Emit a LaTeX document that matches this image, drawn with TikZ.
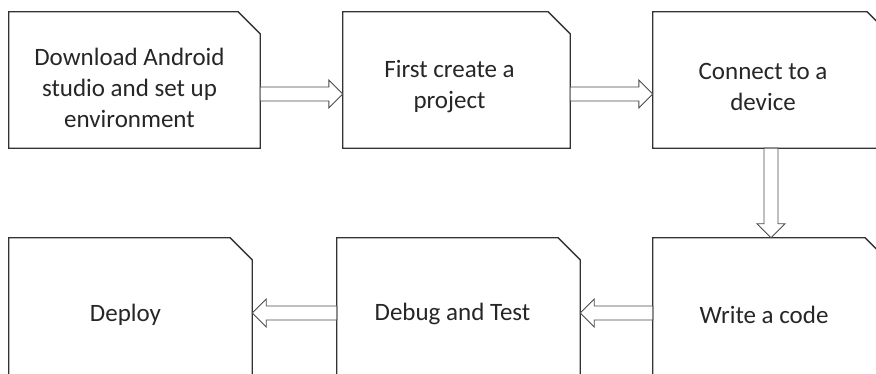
\documentclass[tikz,border=0pt]{standalone}
\usepackage{fontspec}
\setmainfont{Carlito}
\usetikzlibrary{calc,positioning}

% hollow block arrow from #1 to #2
\newcommand{\blockarr}[2]{%
  \draw[blockarrow] let \p1=($(#2)-(#1)$), \n1={atan2(\y1,\x1)}, \n2={veclen(\x1,\y1)} in
    [shift={(#1)}, rotate=\n1]
    (0pt,-7pt) -- (\n2-14pt,-7pt) -- (\n2-14pt,-14pt) -- (\n2,0pt)
    -- (\n2-14pt,14pt) -- (\n2-14pt,7pt) -- (0pt,7pt) -- cycle;
}

\begin{document}
\begin{tikzpicture}[
    x=1pt, y=-1pt,
    stepbox/.style={inner sep=0pt, minimum height=#1},
    stepbox/.default=136pt,
    steptext/.style={inner sep=0pt, align=center, font=\fontsize{25}{31}\selectfont, text=black!85},
    outline/.style={draw=black!80, line width=1.3pt, line join=miter},
    blockarrow/.style={draw=black!70, line width=0.9pt, fill=white}
  ]
    \useasboundingbox (0,0) rectangle (876,374);
    \clip (0,0) rectangle (876,374);

    % boxes
    \node[stepbox, minimum width=251pt] (b1) at (134.5, 80) {};
    \node[stepbox, minimum width=227pt] (b2) at (456.5, 80) {};
    \node[stepbox, minimum width=236pt] (b3) at (771, 80) {};
    \node[stepbox=150pt, minimum width=243pt] (b4) at (130.5, 313) {};
    \node[stepbox=150pt, minimum width=243pt] (b5) at (458.5, 313) {};
    \node[stepbox=150pt, minimum width=234pt] (b6) at (770, 313) {};

    \foreach \b in {b1,b2,b3,b4,b5,b6}
      \draw[outline] (\b.south west) -- (\b.north west) -- ([xshift=-22pt]\b.north east)
        -- ([yshift=-22pt]\b.north east) -- (\b.south east) -- cycle;

    % texts
    \node[steptext] (download) at ([shift={(-5pt,-8pt)}]b1.center) {Download Android\\studio and set up\\environment};
    \node[steptext] (project) at ([shift={(-7pt,-7pt)}]b2.center) {First create a\\project};
    \node[steptext] (device) at ([shift={(-8pt,-7pt)}]b3.center) {Connect to a\\device};
    \node[steptext] (deploy) at ([shift={(-5pt,-2pt)}]b4.center) {Deploy};
    \node[steptext] (debug) at ([shift={(-6pt,-1pt)}]b5.center) {Debug and Test};
    \node[steptext] (code) at ([shift={(-6pt,-2pt)}]b6.center) {Write a code};

    % arrows
    \blockarr{[yshift=-14pt]b1.east}{[yshift=-14pt]b2.west}
    \blockarr{[yshift=-14pt]b2.east}{[yshift=-14pt]b3.west}
    \blockarr{b3.south}{b3.south |- b6.north}
    \blockarr{b6.west}{b5.east}
    \blockarr{b5.west}{b4.east}
  \end{tikzpicture}
\end{document}
